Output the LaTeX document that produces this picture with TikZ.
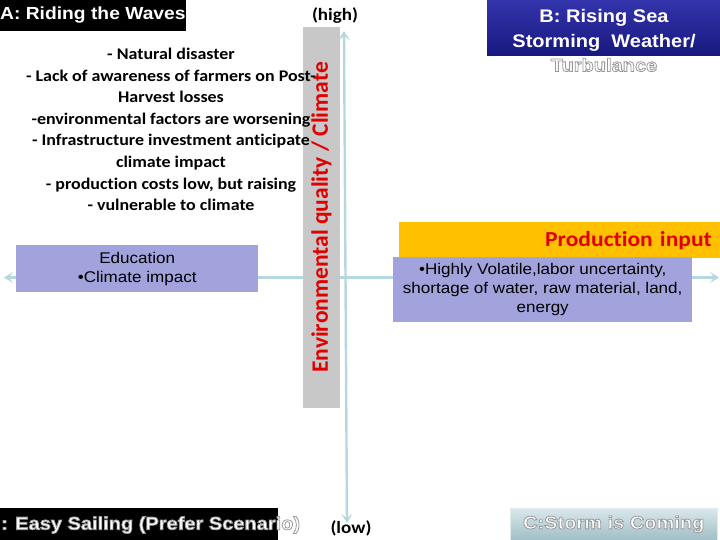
\documentclass[tikz,border=0pt]{standalone}
\usepackage{fontspec}
\setmainfont{Liberation Sans}[FakeStretch=1.1]
\newfontfamily\calfont{Carlito}[FakeStretch=1.1,Ligatures=NoCommon]
\newfontfamily\calvert{Carlito}[Ligatures=NoCommon]
\usetikzlibrary{arrows.meta}
\definecolor{axisc}{RGB}{180,216,222}
\definecolor{boxgray}{RGB}{200,200,200}
\definecolor{lav}{RGB}{162,162,220}
\definecolor{gold}{RGB}{255,192,0}
\definecolor{redt}{RGB}{225,0,0}
\definecolor{bluetop}{RGB}{52,52,172}
\definecolor{bluebot}{RGB}{24,24,128}
\definecolor{ctop}{RGB}{218,232,235}
\definecolor{cbot}{RGB}{160,190,198}
\newcommand\outl[1]{\special{pdf:literal direct 0.6 G 0.8 w 2 Tr}#1\special{pdf:literal direct 0 Tr}}
\tikzset{
  axisline/.style={draw=axisc, line width=2.4pt},
  tipst/.style={-{Stealth[length=9pt,width=11pt,inset=4pt]}},
  lavbox/.style={fill=lav, inner sep=0pt, align=center, font=\fontsize{15.5}{19}\selectfont},
  titletext/.style={text=white, inner sep=0pt, font=\bfseries\fontsize{18.2}{24.5}\selectfont},
  blackbox/.style={fill=black, inner sep=0pt, anchor=north west},
}
\begin{document}
\begin{tikzpicture}[x=1pt,y=-1pt]
\useasboundingbox (0,0) rectangle (720,540);
% axis end points
\coordinate (Lend) at (4,277.5);
\coordinate (Rend) at (719,277.5);
\coordinate (Ttop) at (344,31);
\coordinate (Tbot) at (347,523);
% boxes on the axis
\node[lavbox, minimum width=242, minimum height=47, anchor=north west] (edu) at (16,245) {Education\\\textbullet Climate impact};
\node[fill=gold, anchor=north east, minimum height=36, text width=305, inner xsep=8pt, inner ysep=0pt, align=right, text=redt, font=\calfont\bfseries\fontsize{21.4}{24}\selectfont] (prod) at (720,222) {Production input};
\node[lavbox, minimum width=299, minimum height=65, anchor=north west] (hv) at (393,257) {\textbullet Highly Volatile,labor uncertainty,\\shortage of water, raw material, land,\\energy};
% axes
\draw[axisline] (edu.east |- Lend) -- (hv.west |- Lend);
\draw[axisline, tipst] (edu.west |- Lend) -- (Lend);
\draw[axisline, tipst] (hv.east |- Rend) -- (Rend);
\draw[axisline, {Stealth[length=9pt,width=11pt,inset=4pt]}-{Stealth[length=9pt,width=11pt,inset=4pt]}] (Tbot) -- (Ttop);
% vertical label
\node[fill=boxgray, rotate=90, minimum width=381, minimum height=37, inner sep=0pt, text=redt, font=\calvert\bfseries\fontsize{23.5}{26}\selectfont] (env) at (321.5,217.5) {Environmental quality / Climate};
\node[font=\calfont\bfseries\fontsize{17.3}{20}\selectfont] (high) at (335,16) {(high)};
\node[font=\calfont\bfseries\fontsize{17.3}{20}\selectfont] (low) at (351,528) {(low)};
% list of quadrant A
\node[align=center, font=\calfont\bfseries\fontsize{16.3}{21.6}\selectfont] (list) at (171,129.5) {- Natural disaster\\- Lack of awareness of farmers on Post-\\Harvest losses\\-environmental factors are worsening\\- Infrastructure investment anticipate\\climate impact\\- production costs low, but raising\\- vulnerable to climate};
% quadrant titles
\node[blackbox, minimum width=186, minimum height=31] (Abox) at (0,0) {};
\node[titletext, anchor=west, font=\bfseries\fontsize{17.5}{20}\selectfont] (A) at (0,15.5) {A: Riding the Waves};
\node[anchor=north west, minimum width=233, minimum height=55, inner sep=0pt, top color=bluetop, bottom color=bluebot] (Bbox) at (487,0) {};
\node[titletext, align=center] (B) at (604,40.5) {B: Rising Sea\\Storming\ \ Weather/\\\outl{Turbulance}};
\node[blackbox, minimum width=278, minimum height=32] (Dbox) at (0,508) {};
\node[titletext, anchor=west] (D) at (1,525) {\outl{: Easy Sailing (Prefer Scenario)}};
\node[anchor=north west, minimum width=207, minimum height=32, top color=ctop, bottom color=cbot, draw=white!70!cbot, inner sep=0pt, titletext] (C) at (510,508) {\outl{C:Storm is Coming}};
\end{tikzpicture}
\end{document}
